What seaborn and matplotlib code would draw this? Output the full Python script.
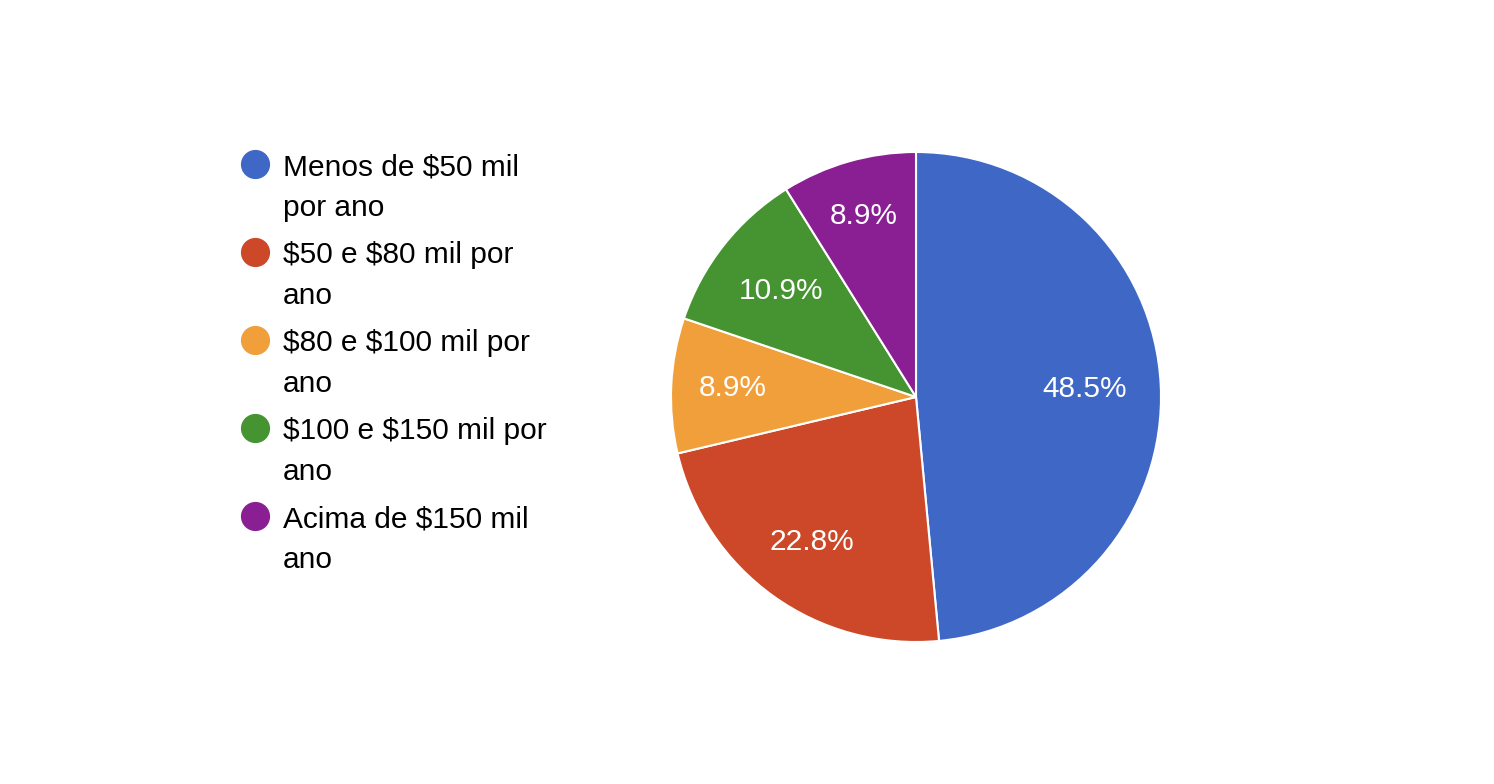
import numpy as np
import matplotlib
matplotlib.use('Agg')
import matplotlib.pyplot as plt
from matplotlib.lines import Line2D
import seaborn as sns

# ------------------------
# Dados
# ------------------------
categorias = [
    "Menos de $50 mil por ano",
    "$50 e $80 mil por ano",
    "$80 e $100 mil por ano",
    "$100 e $150 mil por ano",
    "Acima de $150 mil ano",
]
rotulos_legenda = [
    "Menos de $50 mil\npor ano",
    "$50 e $80 mil por\nano",
    "$80 e $100 mil por\nano",
    "$100 e $150 mil por\nano",
    "Acima de $150 mil\nano",
]
percentuais = [48.5, 22.8, 8.9, 10.9, 8.9]
cores = ["#3F67C6", "#CC4828", "#F19F3A", "#459331", "#8A1F94"]

# distância radial de cada rótulo (estilo)
dist_rotulos = [0.69, 0.73, 0.75, 0.70, 0.77]

# ------------------------
# Configuração
# ------------------------
sns.set_theme(style="white")
plt.rcParams['font.family'] = ['Liberation Sans', 'DejaVu Sans']
palette = sns.color_palette(cores)

W, H = 1494, 784
fig = plt.figure(figsize=(W / 100, H / 100), dpi=100)
fig.patch.set_facecolor("white")

# Pizza: centro (916, 397), raio 245 px
raio_px = 245
lado = raio_px * 2.5
cx, cy = 916, H - 397
ax = fig.add_axes([(cx - lado / 2) / W, (cy - lado / 2) / H, lado / W, lado / H])

wedges, textos, autotextos = ax.pie(
    percentuais,
    colors=palette,
    startangle=90,
    counterclock=False,
    autopct=lambda p: f"{p:.1f}%",
    pctdistance=0.7,
    wedgeprops=dict(edgecolor="white", linewidth=1.5),
    textprops=dict(color="white", fontsize=21.5),
)
for w, t, d in zip(wedges, autotextos, dist_rotulos):
    ang = np.deg2rad((w.theta1 + w.theta2) / 2)
    t.set_position((d * np.cos(ang), d * np.sin(ang)))

ax.set_xlim(-1.25, 1.25)
ax.set_ylim(-1.25, 1.25)
ax.set_aspect("equal")
ax.axis("off")

# ------------------------
# Legenda (manual, com quebra de linha)
# ------------------------
x_marcador, x_texto = 255, 283
y_inicio = 164
passo_item = 88
passo_linha = 41
for i, (rotulo, cor) in enumerate(zip(rotulos_legenda, palette)):
    y = y_inicio + i * passo_item
    fig.add_artist(Line2D([x_marcador / W], [1 - y / H], marker="o", markersize=20,
                          color=cor, linestyle="none", transform=fig.transFigure))
    for j, linha in enumerate(rotulo.split("\n")):
        fig.text(x_texto / W, 1 - (y + 11 + j * passo_linha) / H, linha,
                 fontsize=21.5, color="black", va="baseline", ha="left", parse_math=False)

plt.savefig("out.png", dpi=100)
plt.close()
